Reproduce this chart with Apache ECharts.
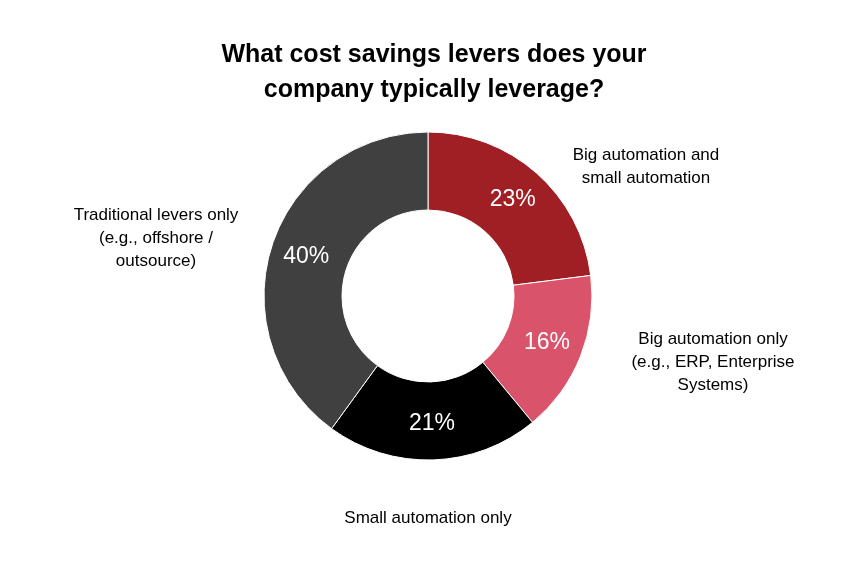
<!DOCTYPE html><html><head><meta charset="utf-8">
<script src="https://cdn.jsdelivr.net/npm/echarts@6/dist/echarts.min.js"></script>
<style>html,body{margin:0;background:#fff}#c{width:868px;height:571px}</style></head><body><div id="c"></div>
<script>
const categories=["Big automation and\nsmall automation","Big automation only\n(e.g., ERP, Enterprise\nSystems)","Small automation only","Traditional levers only\n(e.g., offshore /\noutsource)"];
const values=[23,16,21,40];
const colors=["#A01F24","#D9546A","#000000","#404040"];
const outerPos=[[646,167],[713,362],[428,518],[156,238]];
const chart=echarts.init(document.getElementById('c'));
const F='"Liberation Sans", Arial, sans-serif';
chart.setOption({
 title:{text:"What cost savings levers does your\ncompany typically leverage?",left:'center',top:33,
  textStyle:{fontFamily:F,fontSize:25,fontWeight:'bold',color:'#000',lineHeight:35}},
 graphic:categories.map((c,i)=>({type:'text',x:outerPos[i][0],y:outerPos[i][1],
  style:{text:c,fontFamily:F,fontSize:17,lineHeight:23,fill:'#000',align:'center',verticalAlign:'middle'}})),
 series:[{type:'pie',center:[428,296],radius:[86,164],startAngle:90,clockwise:true,
  itemStyle:{borderColor:'#fff',borderWidth:1},
  label:{position:'inside',formatter:'{c}%',color:'#fff',fontFamily:F,fontSize:23},
  labelLine:{show:false},
  data:values.map((v,i)=>({value:v,name:categories[i],itemStyle:{color:colors[i]}}))}]
});
</script></body></html>
